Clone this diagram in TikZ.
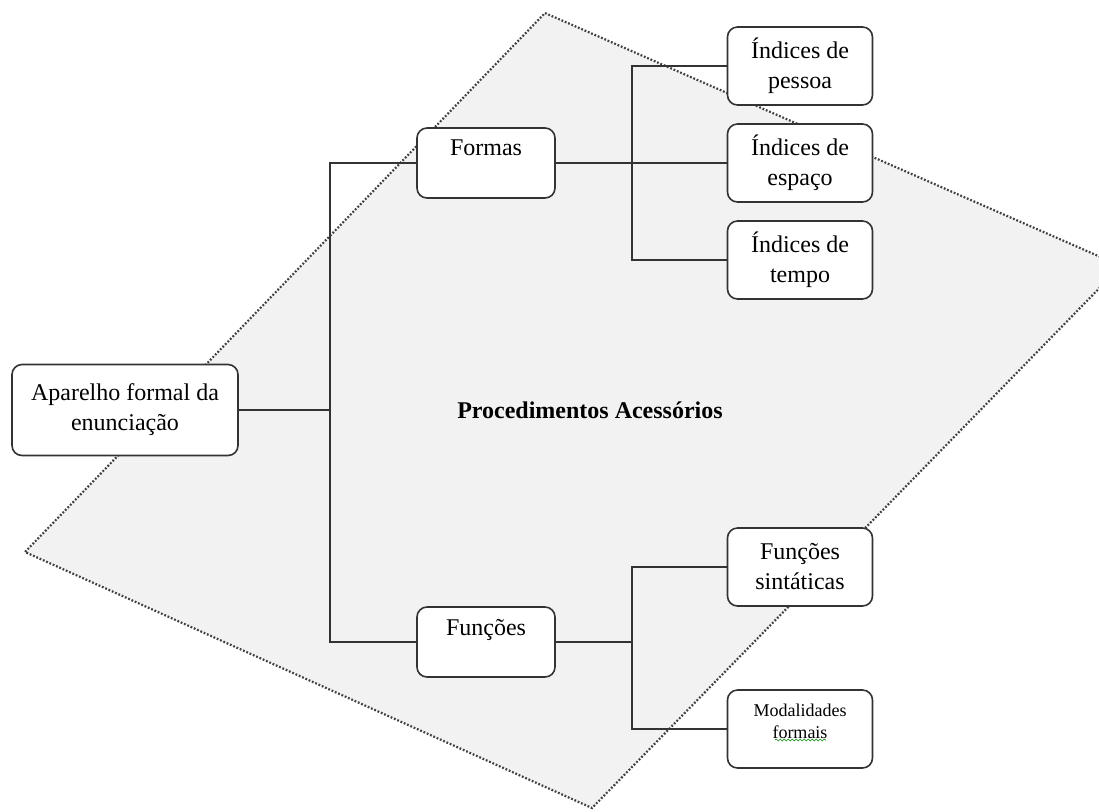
\documentclass[tikz,border=0pt]{standalone}
\usepackage{fontspec}
\setmainfont{Liberation Serif}
\usetikzlibrary{decorations.pathmorphing}
\begin{document}
\begin{tikzpicture}[x=0.5pt,y=-0.5pt,
    caixa/.style ={draw=black!80, line width=0.8pt, fill=white, rounded corners=5pt, align=center, inner sep=0pt, font=\fontsize{12}{15}\selectfont},
    raiz/.style ={caixa, minimum width=113pt, minimum height=45.5pt},
    ramo/.style ={caixa, minimum width=69pt, minimum height=35pt},
    folha/.style ={caixa, minimum width=72.5pt, minimum height=39pt},
    ligacao/.style ={draw=black!80, line width=0.8pt}]
   \useasboundingbox (0,0) rectangle (1099,811);
   \begin{scope}
     \clip (0,0) rectangle (1099,811);
     \draw[fill=black!5, draw=black!75, line width=1.1pt, dash pattern=on 0.9pt off 0.9pt]
       (545,13) -- (1121,266) -- (592,808) -- (25,552) -- cycle;
   \end{scope}

   \node[font=\bfseries\fontsize{12}{15}\selectfont] (proc) at (590,410) {Procedimentos Acessórios};

   \node[raiz] (ap) at (125,410) {Aparelho formal da\\enunciação};
   \node[ramo] (formas) at (486,163) {Formas\\\mbox{}};
   \node[ramo] (funcoes) at (486,642) {Funções\\\mbox{}};
   \node[folha] (ip) at (800,66)  {Índices de\\pessoa};
   \node[folha] (ie) at (800,163) {Índices de\\espaço};
   \node[folha] (it) at (800,260) {Índices de\\tempo};
   \node[folha] (fs) at (800,567) {Funções\\sintáticas};
   \node[folha, font=\fontsize{9}{11}\selectfont] (mf) at (800,729) {Modalidades\\formais\\[-3pt]\mbox{}};

   \coordinate (tronco) at (330,410);
   \coordinate (b1) at (632,163);
   \coordinate (b2) at (632,642);

   \draw[ligacao] (ap.east) -- (tronco);
   \draw[ligacao] (formas.west) -| (tronco) |- (funcoes.west);
   \draw[ligacao] (formas.east) -- (ie.west);
   \draw[ligacao] (ip.west) -| (b1) |- (it.west);
   \draw[ligacao] (funcoes.east) -- (b2);
   \draw[ligacao] (fs.west) -| (b2) |- (mf.west);

   \draw[green!55!black, line width=0.3pt, decorate, decoration={snake, amplitude=0.5pt, segment length=2pt}]
     (775,740) -- (826,740);
 \end{tikzpicture}
\end{document}
